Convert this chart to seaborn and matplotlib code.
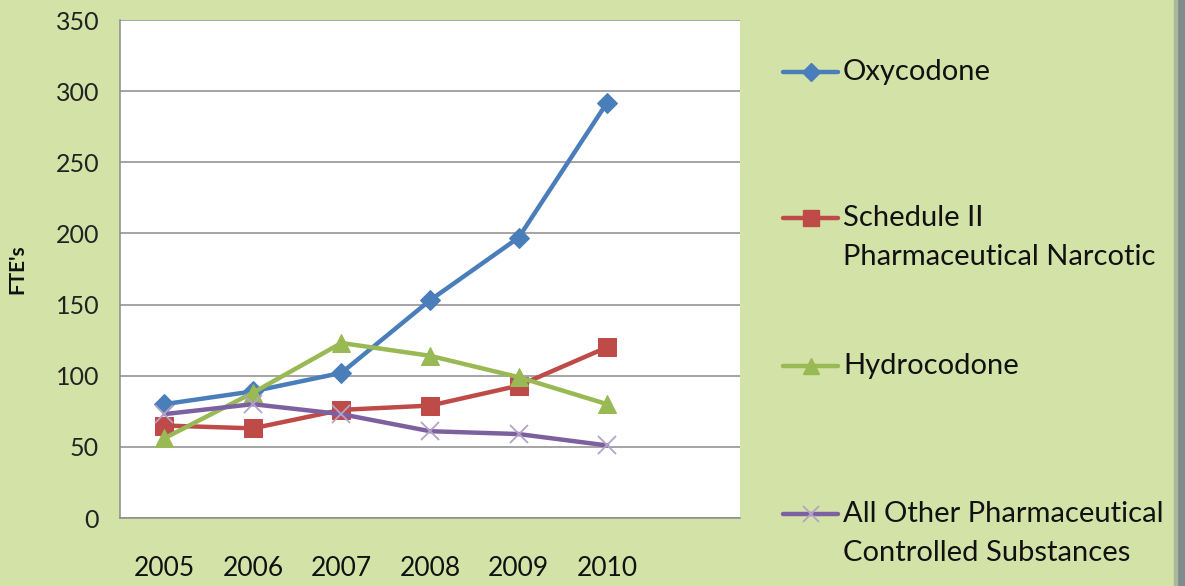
import matplotlib
matplotlib.use("Agg")
import matplotlib.pyplot as plt
from matplotlib.lines import Line2D
from matplotlib.patches import Rectangle
import seaborn as sns
import pandas as pd

years = ["2005", "2006", "2007", "2008", "2009", "2010"]
oxycodone = [80, 89, 102, 153, 197, 292]
schedule_ii = [65, 63, 76, 79, 93, 120]
hydrocodone = [56, 88, 123, 114, 99, 80]
all_other = [73, 80, 73, 61, 59, 51]

series_names = ["Oxycodone", "Schedule II\nPharmaceutical Narcotic", "Hydrocodone",
                "All Other Pharmaceutical\nControlled Substances"]
series_values = [oxycodone, schedule_ii, hydrocodone, all_other]
colors = ["#4a7ebb", "#be4b48", "#98b954", "#7d60a0"]
markers = ["D", "s", "^", "x"]
msizes = [10.5, 13, 13, 13]

sns.set_style("white")
plt.rcParams["font.family"] = ["Lato", "DejaVu Sans"]

bg = "#d3e3a7"
fig = plt.figure(figsize=(11.85, 5.86), dpi=100, facecolor=bg)
ax = fig.add_axes([120/1185, 1-518/586, 620/1185, 498/586])
ax.set_facecolor("white")

for i, (name, vals) in enumerate(zip(series_names, series_values)):
    df = pd.DataFrame({"x": list(range(len(years))), "y": vals})
    mk = markers[i]
    kw = dict(marker=mk, markersize=msizes[i], color=colors[i], linewidth=3.2)
    if mk == "x":
        kw.update(markeredgecolor="#b3a3c9", markeredgewidth=1.3)
    else:
        kw.update(markeredgecolor=colors[i])
    sns.lineplot(data=df, x="x", y="y", ax=ax, zorder=3 + i, **kw)

ax.set_xlim(-0.5, 6.5)
ax.set_ylim(0, 350)
ax.set_yticks(range(0, 351, 50))
ax.set_xticks(range(len(years)))
ax.set_xticklabels(years)
ax.tick_params(axis="x", labelsize=19, pad=27, length=0, colors="#111111")
ax.tick_params(axis="y", labelsize=18, pad=15, length=0, colors="#222222")
ax.grid(axis="y", color="#8c8c8c", linewidth=1.1)
ax.set_axisbelow(True)
for s in ["top", "right"]:
    ax.spines[s].set_visible(False)
for s in ["left", "bottom"]:
    ax.spines[s].set_color("#8c8c8c")
    ax.spines[s].set_linewidth(1.1)
ax.set_xlabel("")
ax.set_ylabel("FTE's", fontsize=15, fontweight="bold", labelpad=20, color="#111111")

# legend drawn manually (Excel style, spread vertically)
leg_y = [72, 218, 366, 514]
for name, c, mk, ms, y in zip(series_names, colors, markers, msizes, leg_y):
    fy = 1 - y/586
    fig.add_artist(Line2D([783/1185, 838/1185], [fy, fy], color=c, linewidth=3.2,
                          transform=fig.transFigure))
    mkw = dict(marker=mk, markersize=ms*0.85, color=c, linestyle="none",
               transform=fig.transFigure)
    if mk == "x":
        mkw.update(markeredgecolor="#b3a3c9", markeredgewidth=1.3)
    fig.add_artist(Line2D([811/1185], [fy], **mkw))
    for j, ln in enumerate(name.split("\n")):
        fig.text(843/1185, 1 - (y + j*39)/586, ln, fontsize=21, va="center",
                 color="#111111")

# right window edge
fig.add_artist(Rectangle((1176/1185, 0), 9/1185, 1, transform=fig.transFigure,
                         color="#7f8b8f", zorder=0))
fig.add_artist(Rectangle((1174/1185, 0), 3/1185, 1, transform=fig.transFigure,
                         color="#aab89a", zorder=0))

fig.savefig("out.png", dpi=100, facecolor=bg)
